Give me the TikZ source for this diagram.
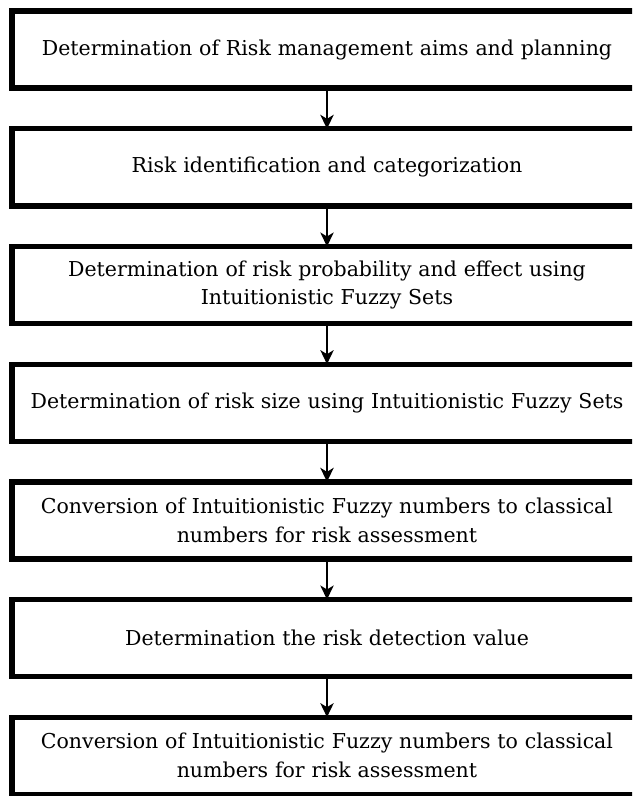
\documentclass[tikz,border=0pt]{standalone}
\usepackage{fontspec}
\setmainfont{DejaVu Serif}
\usetikzlibrary{positioning,arrows.meta}
\begin{document}
\begin{tikzpicture}[
        stagebox/.style={draw, line width=0.16cm, minimum width=18.9cm, minimum height=2.31cm,
            outer sep=0pt, inner sep=0pt, align=center, text width=18cm,
            font=\fontsize{17.5}{24.5}\selectfont},
        flow/.style={-{Stealth[length=0.42cm,width=0.4cm,inset=0.12cm]}, line width=0.06cm},
        node distance=1.22cm
    ]
        \useasboundingbox (0,0) rectangle (18.96,-23.88);
        \begin{scope}
            \clip (0,0) rectangle (18.96,-23.88);
            \node[stagebox] (aims) at (9.81,-1.49) {Determination of Risk management aims and planning};
            \node[stagebox, below=of aims] (ident) {Risk identification and categorization};
            \node[stagebox, below=of ident] (prob) {Determination of risk probability and effect using\\Intuitionistic Fuzzy Sets};
            \node[stagebox, below=of prob] (size) {Determination of risk size using Intuitionistic Fuzzy Sets};
            \node[stagebox, below=of size] (conv) {Conversion of Intuitionistic Fuzzy numbers to classical\\numbers for risk assessment};
            \node[stagebox, below=of conv] (detect) {Determination the risk detection value};
            \node[stagebox, below=of detect] (final) {Conversion of Intuitionistic Fuzzy numbers to classical\\numbers for risk assessment};
        \end{scope}
        \draw[flow] (aims) -- (ident);
        \draw[flow] (ident) -- (prob);
        \draw[flow] (prob) -- (size);
        \draw[flow] (size) -- (conv);
        \draw[flow] (conv) -- (detect);
        \draw[flow] (detect) -- (final);
    \end{tikzpicture}
\end{document}
